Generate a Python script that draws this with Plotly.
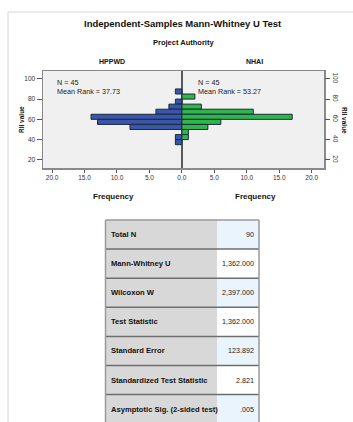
import plotly.graph_objects as go

# ---------------- data ----------------
bin_centers_hppwd = [87.5, 77.5, 72.5, 67.5, 62.5, 57.5, 52.5, 42.5, 37.5]
freq_hppwd = [1, 1, 2, 4, 14, 13, 8, 1, 1]
bin_centers_nhai = [82.5, 72.5, 67.5, 62.5, 57.5, 52.5, 47.5, 42.5]
freq_nhai = [2, 3, 11, 17, 6, 4, 1, 1]
bin_width = 5

x_tickvals = [-20, -15, -10, -5, 0, 5, 10, 15, 20]
x_ticktext = ["20.0", "15.0", "10.0", "5.0", "0.0", "5.0", "10.0", "15.0", "20.0"]
y_tickvals = [20, 40, 60, 80, 100]

group_names = ["HPPWD", "NHAI"]
group_n = [45, 45]
group_mean_rank = [37.73, 53.27]

table_labels = ["Total N", "Mann-Whitney U", "Wilcoxon W", "Test Statistic",
                "Standard Error", "Standardized Test Statistic",
                "Asymptotic Sig. (2-sided test)"]
table_values = ["90", "1,362.000", "2,397.000", "1,362.000", "123.892", "2.821", ".005"]

# ---------------- style ----------------
W, H = 353, 422
FONT = "Liberation Sans, Arial, sans-serif"
BLUE = "#3a55ac"
GREEN = "#2fb64b"
EDGE = "#1c2a3a"

def px_x(p):
    return p / W

def px_y(p):
    return 1 - p / H

plot_l, plot_r, plot_t, plot_b = 43, 324, 71, 168

fig = go.Figure()
fig.add_trace(go.Bar(
    y=bin_centers_hppwd, x=[-v for v in freq_hppwd], orientation="h",
    width=bin_width, marker=dict(color=BLUE, line=dict(color=EDGE, width=1)),
    xaxis="x", yaxis="y", hoverinfo="skip", showlegend=False))
fig.add_trace(go.Bar(
    y=bin_centers_nhai, x=freq_nhai, orientation="h",
    width=bin_width, marker=dict(color=GREEN, line=dict(color=EDGE, width=1)),
    xaxis="x", yaxis="y2", hoverinfo="skip", showlegend=False))

yrange = [12, 107.7]
axis_font = dict(family=FONT, size=6.5, color="#333333")
fig.update_layout(
    width=W, height=H, autosize=False,
    margin=dict(l=0, r=0, t=0, b=0),
    paper_bgcolor="white", plot_bgcolor="#f0f0f0",
    barmode="overlay", bargap=0,
    xaxis=dict(domain=[px_x(plot_l), px_x(plot_r)], range=[-21.4, 21.9],
               tickvals=x_tickvals, ticktext=x_ticktext, tickfont=axis_font,
               ticks="outside", ticklen=3, tickcolor="#555555",
               showgrid=False, zeroline=True, zerolinecolor="#5a5a5a",
               zerolinewidth=1.5, showline=True, linecolor="#8a8a8a",
               linewidth=1.5, mirror=True, fixedrange=True),
    yaxis=dict(domain=[px_y(plot_b), px_y(plot_t)], range=yrange,
               tickvals=y_tickvals, tickfont=axis_font, ticks="outside",
               ticklen=5, tickcolor="#555555", showgrid=False, zeroline=False,
               showline=True, linecolor="#8a8a8a", linewidth=1.5, mirror=True,
               fixedrange=True),
    yaxis2=dict(overlaying="y", side="right", range=yrange,
                tickvals=y_tickvals, tickfont=axis_font, tickangle=90,
                ticks="outside", ticklen=5, tickcolor="#555555",
                showgrid=False, zeroline=False, showline=False, fixedrange=True),
)

ann = []
def text(x, y, s, size, bold=False, xanchor="center", yanchor="middle",
         angle=0, color="#111111", align="left"):
    ann.append(dict(x=px_x(x), y=px_y(y), xref="paper", yref="paper",
                    text=f"<b>{s}</b>" if bold else s, showarrow=False,
                    xanchor=xanchor, yanchor=yanchor, textangle=angle,
                    align=align,
                    font=dict(family=FONT, size=size, color=color)))

text(183, 23.5, "Independent-Samples Mann-Whitney U Test", 9.5, bold=True)
text(183, 42, "Project Authority", 7.5, bold=True)
text(112, 62, group_names[0], 7, bold=True)
text(254, 62, group_names[1], 7, bold=True)
text(113, 196, "Frequency", 8, bold=True)
text(255, 196, "Frequency", 8, bold=True)
text(21, 120, "RII value", 6.5, bold=True, angle=-90)
text(345, 120, "RII value", 6.5, bold=True, angle=90)
for gx, n, mr in [(55, group_n[0], group_mean_rank[0]), (196, group_n[1], group_mean_rank[1])]:
    text(gx, 76, f"N = {n}<br>Mean Rank = {mr:.2f}", 7.2, xanchor="left",
         yanchor="top", color="#222222")

shapes = []
# outer light frame
shapes.append(dict(type="line", xref="paper", yref="paper", x0=px_x(8), x1=1,
                   y0=px_y(12), y1=px_y(12), line=dict(color="#d4d4d4", width=1)))
shapes.append(dict(type="line", xref="paper", yref="paper", x0=px_x(8), x1=px_x(8),
                   y0=px_y(12), y1=0, line=dict(color="#d4d4d4", width=1)))

# table
t_l, t_mid, t_r, t_top, row_h = 105.5, 217, 259, 220, 29.1
value_fills = ["#eaf4fc", "#ffffff"]
for i, (lab, val) in enumerate(zip(table_labels, table_values)):
    y0 = t_top + i * row_h
    y1 = y0 + row_h
    shapes.append(dict(type="rect", xref="paper", yref="paper",
                       x0=px_x(t_l), x1=px_x(t_mid), y0=px_y(y1), y1=px_y(y0),
                       fillcolor="#d8d8d8", line=dict(width=0), layer="below"))
    shapes.append(dict(type="rect", xref="paper", yref="paper",
                       x0=px_x(t_mid), x1=px_x(t_r), y0=px_y(y1), y1=px_y(y0),
                       fillcolor=value_fills[i % 2], line=dict(width=0), layer="below"))
    if i > 0:
        shapes.append(dict(type="line", xref="paper", yref="paper",
                           x0=px_x(t_l), x1=px_x(t_r), y0=px_y(y0), y1=px_y(y0),
                           line=dict(color="#6e6e6e", width=1.5)))
    text(t_l + 3, (y0 + y1) / 2, lab, 7.6, bold=True, xanchor="left")
    text(t_r - 3, (y0 + y1) / 2, val, 7.2, xanchor="right", color="#222222")

t_bot = t_top + len(table_labels) * row_h
shapes.append(dict(type="line", xref="paper", yref="paper", x0=px_x(t_l), x1=px_x(t_r),
                   y0=px_y(t_top), y1=px_y(t_top), line=dict(color="#9a9a9a", width=1.5)))
for xx in (t_l, t_r):
    shapes.append(dict(type="line", xref="paper", yref="paper", x0=px_x(xx), x1=px_x(xx),
                       y0=px_y(t_top), y1=px_y(t_bot), line=dict(color="#9a9a9a", width=1.5)))

fig.update_layout(annotations=ann, shapes=shapes)
fig.write_html("out.html", config={"displayModeBar": False, "staticPlot": True},
               post_script="document.body.style.margin='0px';document.body.style.overflow='hidden';")
